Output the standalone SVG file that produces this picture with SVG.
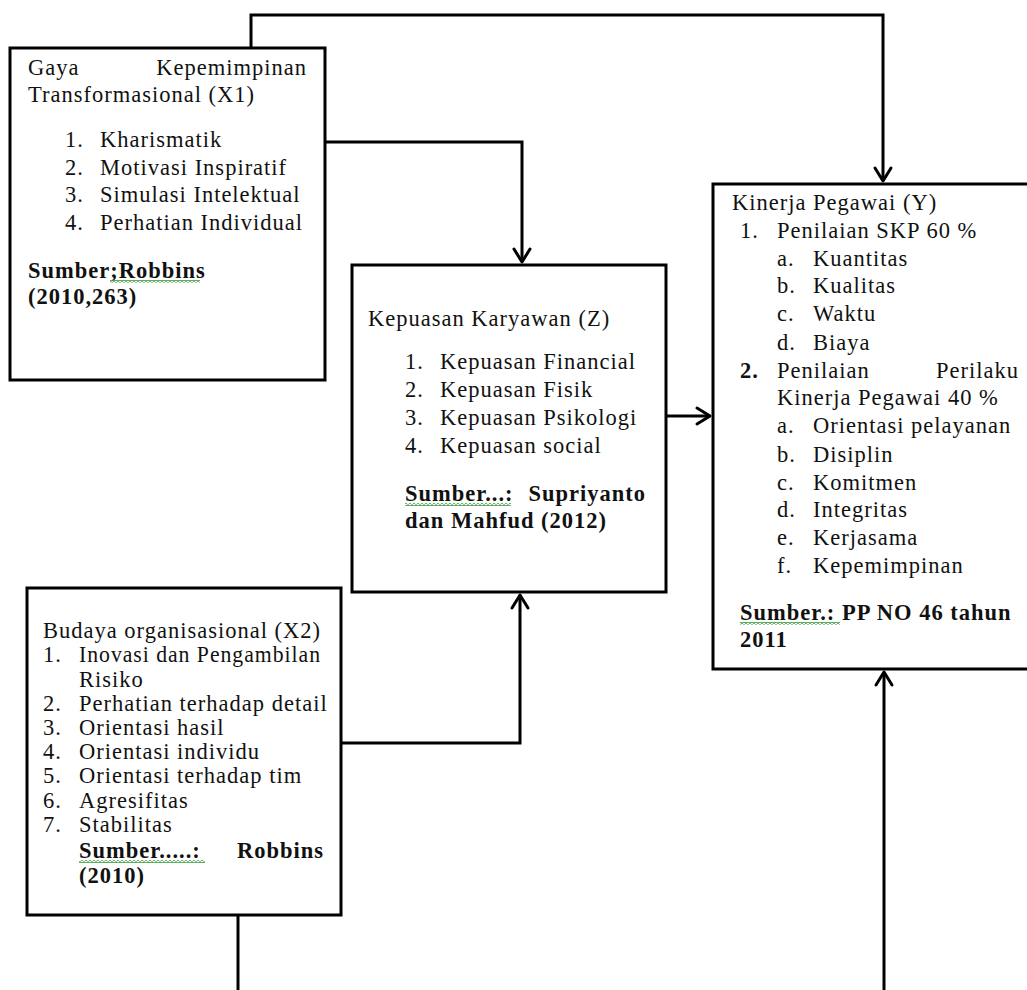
<svg xmlns="http://www.w3.org/2000/svg" width="1027" height="990" viewBox="0 0 1027 990">
<defs>
<style>
.box{fill:#fff;stroke:#000;stroke-width:3}
.t{font-family:"Liberation Serif","Times New Roman",serif;font-size:22.5px;letter-spacing:1px;fill:#111}
.b{font-weight:bold}
.c{fill:none;stroke:#000;stroke-width:3}
.sq{fill:url(#squig)}
</style>
<pattern id="squig" x="0" y="0" width="4" height="3" patternUnits="userSpaceOnUse">
<path d="M0,0.6 L2,2.4 L4,0.6" fill="none" stroke="#3a9a3a" stroke-width="1.2"/>
</pattern>
<marker id="arr" markerUnits="userSpaceOnUse" viewBox="-16 -11 19 22" markerWidth="19" markerHeight="22" refX="0" refY="0" orient="auto">
<path d="M-13,-8 L0,0 L-13,8" fill="none" stroke="#000" stroke-width="3" stroke-linejoin="round" stroke-linecap="round"/>
</marker>
</defs>
<rect width="1027" height="990" fill="#fff"/>

<g id="connectors">
<path class="c" d="M251,48 V15 H883 V181" marker-end="url(#arr)"/>
<path class="c" d="M325,142 H522 V262" marker-end="url(#arr)"/>
<path class="c" d="M666,416 H710" marker-end="url(#arr)"/>
<path class="c" d="M341,743 H520 V595" marker-end="url(#arr)"/>
<path class="c" d="M238,915 V992"/>
<path class="c" d="M884,992 V672" marker-end="url(#arr)"/>
</g>

<g id="node-x1">
<rect class="box" x="10" y="48" width="315" height="332"/>
<text class="t" x="28" y="75">Gaya</text>
<text class="t" x="307" y="75" text-anchor="end">Kepemimpinan</text>
<text class="t" x="28" y="102">Transformasional (X1)</text>
<text class="t" x="65" y="147">1.</text><text class="t" x="100" y="147">Kharismatik</text>
<text class="t" x="65" y="175">2.</text><text class="t" x="100" y="175">Motivasi Inspiratif</text>
<text class="t" x="65" y="202">3.</text><text class="t" x="100" y="202">Simulasi Intelektual</text>
<text class="t" x="65" y="230">4.</text><text class="t" x="100" y="230">Perhatian Individual</text>
<text class="t b" x="28" y="278">Sumber;Robbins</text>
<text class="t b" x="28" y="304">(2010,263)</text>
<rect class="sq" x="110" y="280" width="90" height="3"/>
</g>

<g id="node-z">
<rect class="box" x="352" y="265" width="314" height="327"/>
<text class="t" x="368" y="326">Kepuasan Karyawan (Z)</text>
<text class="t" x="405" y="369">1.</text><text class="t" x="440" y="369">Kepuasan Financial</text>
<text class="t" x="405" y="397">2.</text><text class="t" x="440" y="397">Kepuasan Fisik</text>
<text class="t" x="405" y="425">3.</text><text class="t" x="440" y="425">Kepuasan Psikologi</text>
<text class="t" x="405" y="453">4.</text><text class="t" x="440" y="453">Kepuasan social</text>
<text class="t b" x="405" y="501">Sumber...:</text>
<text class="t b" x="646" y="501" text-anchor="end">Supriyanto</text>
<text class="t b" x="405" y="528">dan Mahfud (2012)</text>
<rect class="sq" x="405" y="503" width="106" height="3"/>
</g>

<g id="node-y">
<rect class="box" x="713" y="184" width="340" height="485"/>
<text class="t" x="732" y="210">Kinerja Pegawai (Y)</text>
<text class="t" x="740" y="238">1.</text><text class="t" x="777" y="238">Penilaian SKP 60 %</text>
<text class="t" x="777" y="266">a.</text><text class="t" x="813" y="266">Kuantitas</text>
<text class="t" x="777" y="293">b.</text><text class="t" x="813" y="293">Kualitas</text>
<text class="t" x="777" y="321">c.</text><text class="t" x="813" y="321">Waktu</text>
<text class="t" x="777" y="350">d.</text><text class="t" x="813" y="350">Biaya</text>
<text class="t b" x="740" y="378">2.</text><text class="t" x="777" y="378">Penilaian</text>
<text class="t" x="1019" y="378" text-anchor="end">Perilaku</text>
<text class="t" x="777" y="405">Kinerja Pegawai 40 %</text>
<text class="t" x="777" y="433">a.</text><text class="t" x="813" y="433">Orientasi pelayanan</text>
<text class="t" x="777" y="462">b.</text><text class="t" x="813" y="462">Disiplin</text>
<text class="t" x="777" y="490">c.</text><text class="t" x="813" y="490">Komitmen</text>
<text class="t" x="777" y="517">d.</text><text class="t" x="813" y="517">Integritas</text>
<text class="t" x="777" y="545">e.</text><text class="t" x="813" y="545">Kerjasama</text>
<text class="t" x="777" y="573">f.</text><text class="t" x="813" y="573">Kepemimpinan</text>
<text class="t b" x="740" y="620">Sumber.: PP NO 46 tahun</text>
<text class="t b" x="740" y="647">2011</text>
<rect class="sq" x="740" y="622" width="100" height="3"/>
</g>

<g id="node-x2">
<rect class="box" x="27" y="588" width="314" height="327"/>
<text class="t" x="43" y="638">Budaya organisasional (X2)</text>
<text class="t" x="43" y="662">1.</text><text class="t" x="79" y="662" textLength="242" lengthAdjust="spacingAndGlyphs">Inovasi dan Pengambilan</text>
<text class="t" x="79" y="687">Risiko</text>
<text class="t" x="43" y="711">2.</text><text class="t" x="79" y="711">Perhatian terhadap detail</text>
<text class="t" x="43" y="735">3.</text><text class="t" x="79" y="735">Orientasi hasil</text>
<text class="t" x="43" y="759">4.</text><text class="t" x="79" y="759">Orientasi individu</text>
<text class="t" x="43" y="783">5.</text><text class="t" x="79" y="783">Orientasi terhadap tim</text>
<text class="t" x="43" y="808">6.</text><text class="t" x="79" y="808">Agresifitas</text>
<text class="t" x="43" y="832">7.</text><text class="t" x="79" y="832">Stabilitas</text>
<text class="t b" x="79" y="858">Sumber.....:</text>
<text class="t b" x="324" y="858" text-anchor="end">Robbins</text>
<text class="t b" x="79" y="883">(2010)</text>
<rect class="sq" x="79" y="860" width="126" height="3"/>
</g>
</svg>
